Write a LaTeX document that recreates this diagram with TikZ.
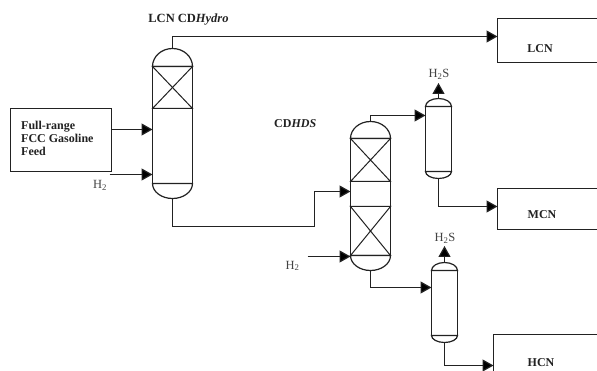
\documentclass[tikz,border=0pt]{standalone}
\usepackage{fontspec}
\setmainfont{Liberation Serif}
\usetikzlibrary{arrows.meta}
\definecolor{ink}{HTML}{222222}
\tikzset{
  line/.style={draw=ink,line width=1.2pt},
  flow/.style={line,-{Triangle[length=11pt,width=12pt,fill=black]}},
  unitbox/.style={line,rectangle,inner sep=0pt,outer sep=0pt,anchor=north west},
  lbl/.style={font=\fontsize{12}{13}\selectfont\bfseries,text=ink,inner sep=0pt},
  plain/.style={font=\fontsize{12.5}{14}\selectfont,text=ink!85,inner sep=0pt},
}
% name, centre x, half width, dome top, shoulder, bottom line, dome bottom
\newcommand{\vesselshape}[7]{%
  \coordinate (#1-top) at (#2,#4);
  \coordinate (#1-bot) at (#2,#7);
  \path[line] (#2-#3,#5) arc[start angle=180,end angle=360,x radius=#3,y radius=#5-#4] -- cycle;
  \path[line] (#2-#3,#6) arc[start angle=180,end angle=0,x radius=#3,y radius=#7-#6] -- cycle;
  \path[line] (#2-#3,#5) -- (#2-#3,#6) (#2+#3,#5) -- (#2+#3,#6);
}
% centre x, half width, top, bottom
\newcommand{\packing}[4]{%
  \path[line,line width=1pt] (#1-#2,#3) -- (#1+#2,#3) -- (#1-#2,#4) -- (#1+#2,#4) -- cycle;
}
\begin{document}
\begin{tikzpicture}[x=1pt,y=-1pt]
\useasboundingbox (0,0) rectangle (597,371);
\fill[white] (0,0) rectangle (597,371);

% product and feed boxes
\node[unitbox,minimum width=101pt,minimum height=63pt] (feed) at (10.5,108.5) {};
\node[unitbox,minimum width=102pt,minimum height=44pt] (lcn) at (497.5,18.5) {};
\node[unitbox,minimum width=102pt,minimum height=41pt] (mcn) at (497.5,188.5) {};
\node[unitbox,minimum width=106pt,minimum height=50pt] (hcn) at (493.5,334.5) {};

% vessels
\vesselshape{colA}{172.5}{20}{48.5}{66.5}{183.5}{198.5}
\packing{172.5}{20}{66.5}{108.5}
\vesselshape{colB}{370.5}{20}{121.5}{138.5}{255.5}{270.5}
\packing{370.5}{20}{138.5}{181.5}
\packing{370.5}{20}{206.5}{255.5}
\vesselshape{sepA}{438.5}{13}{98.5}{106.5}{171.5}{178.5}
\vesselshape{sepB}{444.5}{13}{262.5}{270.5}{335.5}{342.5}

% connection points
\coordinate (colA-in1) at (152.5,129.5);
\coordinate (colA-in2) at (152.5,174.5);
\coordinate (colB-in1) at (350.5,191.5);
\coordinate (colB-in2) at (350.5,256.5);
\coordinate (sepA-in) at (425.5,115.5);
\coordinate (sepB-in) at (431.5,287.5);
\coordinate (sepA-gas) at (438.5,83);
\coordinate (sepB-gas) at (444.5,246);
\coordinate (h2a) at (109.5,174.5);
\coordinate (h2b) at (307.5,256.5);
\coordinate (feed-out) at (111.5,129.5);

% connectors
\draw[flow] (feed-out) -- (colA-in1);
\draw[flow] (h2a) -- (colA-in2);
\draw[flow] (colA-top) |- (lcn.west |- 0,36.5);
\draw[flow] (colA-bot) |- (314.5,226.5) |- (colB-in1);
\draw[flow] (h2b) -- (colB-in2);
\draw[flow] (colB-top) |- (sepA-in);
\draw[flow] (colB-bot) |- (sepB-in);
\draw[flow] (sepA-top) -- (sepA-gas);
\draw[flow] (sepB-top) -- (sepB-gas);
\draw[flow] (sepA-bot) |- (mcn.west |- 0,206.5);
\draw[flow] (sepB-bot) |- (hcn.west |- 0,365.5);

% labels
\node[lbl,anchor=center,font=\fontsize{12.5}{13}\selectfont\bfseries] (tA) at (188.5,19.5) {LCN CD\textit{Hydro}};
\node[lbl,anchor=west] (tB) at (274,123.5) {CD\textit{HDS}};
\node[lbl,anchor=north west,align=left] (tF) at (21,121) {Full-range\\FCC Gasoline\\Feed};
\node[lbl] (tL) at (540,49) {LCN};
\node[lbl] (tM) at (542,215) {MCN};
\node[lbl] (tH) at (541,363) {HCN};
\node[plain] (h1) at (100,185.5) {H\textsubscript{2}};
\node[plain] (h2) at (292.5,266) {H\textsubscript{2}};
\node[plain] (g1) at (439,74.5) {H\textsubscript{2}S};
\node[plain] (g2) at (445,238.5) {H\textsubscript{2}S};
\end{tikzpicture}
\end{document}
